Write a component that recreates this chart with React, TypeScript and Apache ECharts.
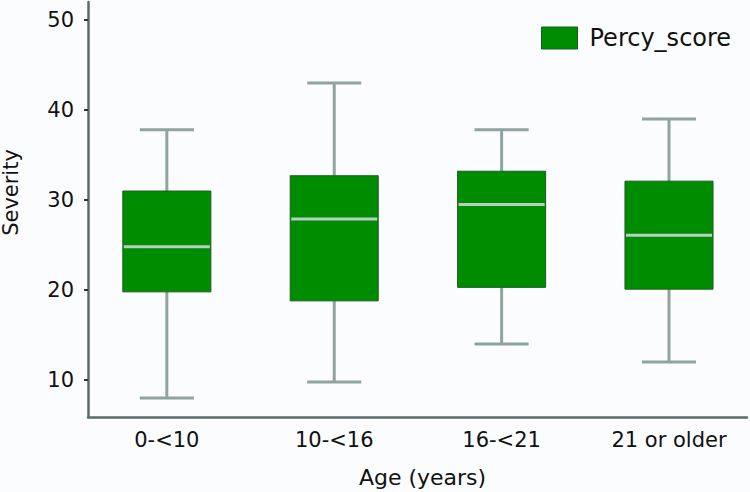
import React, { useEffect, useRef } from "react";
import * as echarts from "echarts";

const categories = ["0-<10", "10-<16", "16-<21", "21 or older"];
const lowValues = [8.0, 9.8, 14.0, 12.0];
const q1Values = [19.8, 18.8, 20.3, 20.1];
const medianValues = [24.8, 27.9, 29.5, 26.1];
const q3Values = [31.0, 32.7, 33.2, 32.1];
const highValues = [37.8, 43.0, 37.8, 39.0];
const yTicks = [10, 20, 30, 40, 50];
const seriesName = "Percy_score";

const FONT = "DejaVu Sans";
const BOX_FILL = "#008c00";
const BOX_BORDER = "#1b5e1b";
const WHISKER = "#8fa3a0";
const MEDIAN = "#b6cfc2";
const AXIS = "#5b6a6b";

export default function App() {
  const ref = useRef<HTMLDivElement>(null);
  useEffect(() => {
    if (!ref.current) return;
    const chart = echarts.init(ref.current, null, { renderer: "svg" });
    const data = categories.map((_, i) => [
      i,
      lowValues[i],
      q1Values[i],
      medianValues[i],
      q3Values[i],
      highValues[i],
    ]);
    chart.setOption({
      animation: false,
      backgroundColor: "#fbfcfd",
      grid: { left: 88, top: 2, width: 659, bottom: 75, outerBoundsMode: "none", containLabel: false },
      legend: {
        data: [{ name: seriesName, icon: "rect" }],
        left: 536,
        top: 21,
        itemWidth: 36,
        itemHeight: 22,
        itemStyle: { borderColor: BOX_BORDER, borderWidth: 1 },
        textStyle: { fontFamily: FONT, fontSize: 24, color: "#111", padding: [0, 0, 0, 7] },
        selectedMode: false,
      },
      xAxis: {
        type: "value",
        min: -0.471,
        max: 3.466,
        name: "Age (years)",
        nameLocation: "middle",
        nameGap: 49,
        nameTextStyle: { fontFamily: FONT, fontSize: 22, color: "#111", padding: [0, 0, 0, 10] },
        axisLine: { show: true, onZero: false, lineStyle: { color: AXIS, width: 2.5 } },
        axisTick: { show: false },
        splitLine: { show: false },
        axisLabel: {
          customValues: [0, 1, 2, 3],
          formatter: (v: number) => categories[Math.round(v)] ?? "",
          fontFamily: FONT,
          fontSize: 21,
          color: "#111",
          margin: 12,
        },
      },
      yAxis: {
        type: "value",
        min: 5.9,
        max: 52,
        name: "Severity",
        nameLocation: "middle",
        nameGap: 67,
        nameTextStyle: { fontFamily: FONT, fontSize: 21, color: "#111", padding: [0, 0, 0, 34] },
        axisLine: { show: true, onZero: false, lineStyle: { color: AXIS, width: 2.5 } },
        axisTick: {
          show: true,
          customValues: yTicks,
          length: 4,
          lineStyle: { color: "#333", width: 2 },
        },
        splitLine: { show: false },
        axisLabel: {
          customValues: yTicks,
          fontFamily: FONT,
          fontSize: 21,
          color: "#111",
          margin: 14,
        },
      },
      series: [
        {
          name: seriesName,
          type: "custom",
          itemStyle: { color: BOX_FILL },
          encode: { x: 0, y: [1, 2, 3, 4, 5] },
          data,
          renderItem: (params: any, api: any) => {
            const x = api.value(0);
            const lo = api.coord([x, api.value(1)]);
            const q1 = api.coord([x, api.value(2)]);
            const med = api.coord([x, api.value(3)]);
            const q3 = api.coord([x, api.value(4)]);
            const hi = api.coord([x, api.value(5)]);
            const band = api.size([1, 0])[0];
            const bw = band * 0.526;
            const cw = band * 0.323;
            const cx = lo[0];
            const wStyle = { stroke: WHISKER, lineWidth: 3 };
            return {
              type: "group",
              children: [
                { type: "line", shape: { x1: cx, y1: hi[1], x2: cx, y2: q3[1] }, style: wStyle },
                { type: "line", shape: { x1: cx, y1: q1[1], x2: cx, y2: lo[1] }, style: wStyle },
                { type: "line", shape: { x1: cx - cw / 2, y1: hi[1], x2: cx + cw / 2, y2: hi[1] }, style: wStyle },
                { type: "line", shape: { x1: cx - cw / 2, y1: lo[1], x2: cx + cw / 2, y2: lo[1] }, style: wStyle },
                {
                  type: "rect",
                  shape: { x: cx - bw / 2, y: q3[1], width: bw, height: q1[1] - q3[1] },
                  style: { fill: BOX_FILL, stroke: BOX_BORDER, lineWidth: 1 },
                },
                {
                  type: "line",
                  shape: { x1: cx - bw / 2 + 1, y1: med[1], x2: cx + bw / 2 - 1, y2: med[1] },
                  style: { stroke: MEDIAN, lineWidth: 3 },
                },
              ],
            };
          },
        },
      ],
    });
    return () => chart.dispose();
  }, []);
  return (
    <div
      ref={ref}
      style={{ position: "absolute", left: 0, top: 0, width: 750, height: 492 }}
    />
  );
}
